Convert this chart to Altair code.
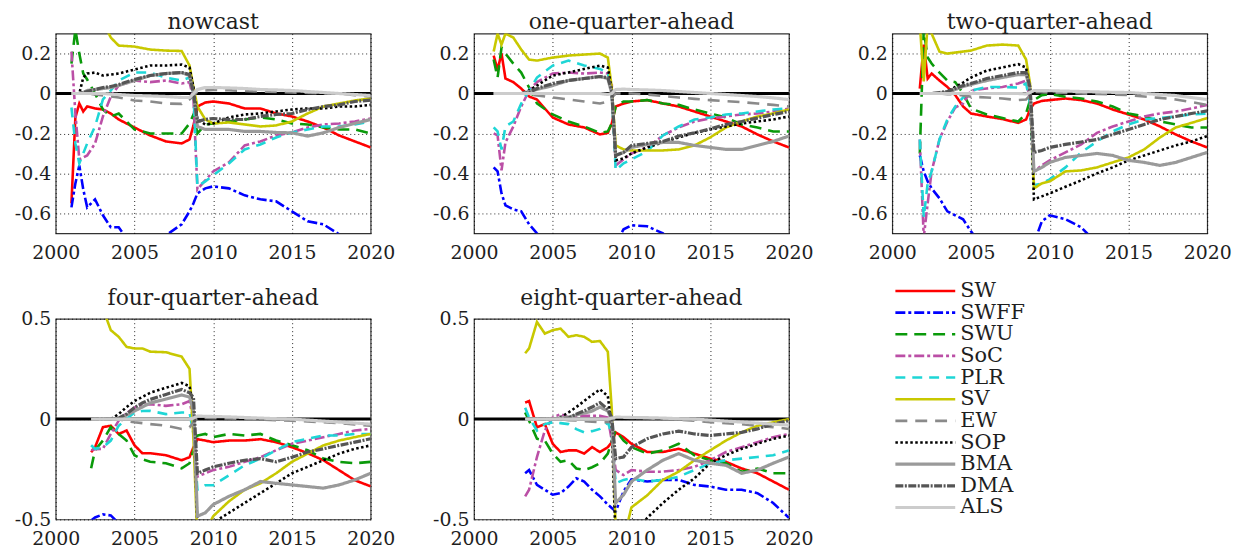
import altair as alt
import pandas as pd

SERIES = ["SW", "SWFF", "SWU", "SoC", "PLR", "SV", "EW", "SOP", "BMA", "DMA", "ALS"]
COLORS = ["#ff0000", "#0000ff", "#0a9a0a", "#bb4fa6", "#1ed6d6", "#c8c800",
          "#8a8a8a", "#000000", "#9a9a9a", "#555555", "#cccccc"]
DASHES = [[1, 0], [10, 3, 3, 3], [12, 7], [10, 3, 3, 3], [10, 7], [1, 0],
          [12, 8], [2.5, 2.5], [1, 0], [8, 1.5, 2, 1.5], [1, 0]]
THICK = ["BMA", "DMA", "ALS"]

X_TICKS = [2000, 2005, 2010, 2015, 2020]
Y_TICKS_TOP = [-0.6, -0.4, -0.2, 0, 0.2]
Y_TICKS_BOT = [-0.5, 0, 0.5]

# ---------------- nowcast ----------------
NOW_T = [2001.0, 2001.25, 2001.5, 2001.75, 2002.0, 2002.5, 2003.0, 2003.5, 2004.0, 2005.0,
         2006.0, 2007.0, 2008.0, 2008.5, 2008.75, 2009.0, 2009.5, 2010.0, 2011.0, 2012.0,
         2013.0, 2014.0, 2015.0, 2016.0, 2017.0, 2018.0, 2019.0, 2020.0]
NOW_SW = [-0.55, -0.12, -0.05, -0.09, -0.065, -0.075, -0.08, -0.1, -0.13, -0.17, -0.21, -0.24, -0.25, -0.23,
          -0.16, -0.065, -0.045, -0.04, -0.05, -0.075, -0.075, -0.1, -0.115, -0.14, -0.17, -0.21, -0.24, -0.27]
NOW_SWFF = [-0.57, -0.45, -0.36, -0.48, -0.57, -0.53, -0.61, -0.67, -0.67, -0.78, -0.8, -0.71, -0.655, -0.59,
            -0.55, -0.5, -0.475, -0.465, -0.475, -0.51, -0.53, -0.54, -0.59, -0.64, -0.655, -0.705, -0.75, -0.8]
NOW_SWU = [0.15, 0.32, 0.2, 0.1, 0.07, 0.0, -0.08, -0.115, -0.1, -0.18, -0.2, -0.2, -0.2, -0.15,
           -0.105, -0.2, -0.155, -0.15, -0.14, -0.13, -0.12, -0.13, -0.15, -0.155, -0.17, -0.18, -0.18, -0.2]
NOW_SOC = [0.21, -0.1, -0.33, -0.32, -0.31, -0.25, -0.115, -0.015, 0.04, 0.065, 0.057, 0.065, 0.05, 0.057,
           -0.03, -0.48, -0.435, -0.39, -0.345, -0.26, -0.24, -0.21, -0.195, -0.17, -0.155, -0.15, -0.14, -0.125]
NOW_PLR = [-0.07, -0.25, -0.35, -0.3, -0.25, -0.165, -0.03, 0.015, 0.065, 0.105, 0.105, 0.08, 0.065, 0.08,
           0.0, -0.465, -0.44, -0.41, -0.35, -0.28, -0.255, -0.22, -0.195, -0.18, -0.165, -0.165, -0.155, -0.14]
NOW_SV = [None, None, None, None, None, None, 0.36, 0.28, 0.24, 0.235, 0.22, 0.215, 0.213, 0.14,
          0.03, -0.065, -0.13, -0.15, -0.145, -0.155, -0.165, -0.16, -0.14, -0.1, -0.065, -0.05, -0.035, -0.025]
NOW_EW = [0, 0, 0, 0, 0, -0.005, -0.01, -0.015, -0.02, -0.035, -0.04, -0.05, -0.052, -0.03,
          -0.01, 0.01, 0.015, 0.018, 0.016, 0.013, 0.01, 0.008, 0.005, 0.003, 0.0, 0.0, -0.008, -0.015]
NOW_SOP = [0, 0, 0, 0.08, 0.1, 0.105, 0.09, 0.095, 0.1, 0.12, 0.14, 0.14, 0.145, 0.13,
           0.03, -0.13, -0.155, -0.15, -0.12, -0.105, -0.1, -0.09, -0.08, -0.075, -0.075, -0.065, -0.065, -0.057]
NOW_BMA = [0, 0, 0, 0.005, 0.015, 0.02, 0.025, 0.03, 0.04, 0.065, 0.09, 0.1, 0.105, 0.09,
           0.0, -0.165, -0.18, -0.18, -0.18, -0.19, -0.19, -0.195, -0.197, -0.213, -0.197, -0.17, -0.15, -0.13]
NOW_DMA = [0, 0, 0, 0.005, 0.01, 0.02, 0.03, 0.035, 0.045, 0.07, 0.09, 0.1, 0.105, 0.095,
           0.0, -0.14, -0.13, -0.125, -0.13, -0.13, -0.115, -0.105, -0.1, -0.08, -0.065, -0.057, -0.04, -0.033]
NOW_ALS = [0, 0, 0, 0, 0, 0, 0, -0.003, -0.005, -0.01, -0.012, -0.015, -0.02, -0.02,
           0.0, 0.02, 0.03, 0.03, 0.028, 0.025, 0.02, 0.018, 0.015, 0.01, 0.005, 0.0, -0.005, -0.01]

# ---------------- one-quarter-ahead ----------------
Q1_T = [2001.25, 2001.5, 2001.75, 2002.0, 2002.5, 2003.0, 2003.5, 2004.0, 2005.0, 2006.0,
        2007.0, 2008.0, 2008.5, 2008.75, 2009.0, 2009.5, 2010.0, 2011.0, 2012.0, 2013.0,
        2014.0, 2015.0, 2016.0, 2017.0, 2018.0, 2019.0, 2020.0]
Q1_SW = [0.19, 0.12, 0.2, 0.075, 0.057, 0.025, -0.015, -0.03, -0.12, -0.155, -0.17, -0.205, -0.197, -0.15,
         -0.065, -0.05, -0.04, -0.033, -0.05, -0.065, -0.09, -0.115, -0.14, -0.165, -0.205, -0.24, -0.27]
Q1_SWFF = [-0.37, -0.39, -0.5, -0.56, -0.58, -0.59, -0.655, -0.7, -0.78, -0.8, -0.8, -0.8, -0.8, -0.79,
           -0.75, -0.68, -0.66, -0.665, -0.7, -0.78, -0.82, -0.85, -0.85, -0.85, -0.85, -0.85, -0.85]
Q1_SWU = [0.17, 0.08, 0.23, 0.2, 0.15, 0.105, 0.03, -0.05, -0.105, -0.14, -0.165, -0.197, -0.19, -0.15,
          -0.065, -0.04, -0.04, -0.033, -0.05, -0.057, -0.08, -0.1, -0.12, -0.155, -0.17, -0.19, -0.19]
Q1_SOC = [-0.2, -0.21, -0.385, -0.245, -0.165, -0.065, 0.015, 0.057, 0.1, 0.105, 0.1, 0.105, 0.1, 0.05,
          -0.36, -0.33, -0.3, -0.27, -0.21, -0.17, -0.14, -0.125, -0.115, -0.105, -0.1, -0.09, -0.075]
Q1_PLR = [-0.17, -0.19, -0.28, -0.165, -0.14, -0.05, 0.015, 0.08, 0.14, 0.165, 0.14, 0.123, 0.105, 0.0,
          -0.385, -0.35, -0.33, -0.29, -0.21, -0.165, -0.13, -0.12, -0.105, -0.1, -0.09, -0.08, -0.075]
Q1_SV = [0.21, 0.3, 0.245, 0.3, 0.28, 0.22, 0.17, 0.165, 0.18, 0.19, 0.195, 0.2, 0.18, 0.03,
         -0.26, -0.28, -0.285, -0.285, -0.285, -0.28, -0.26, -0.22, -0.17, -0.14, -0.115, -0.1, -0.08]
Q1_EW = [0, 0, 0, 0, 0, 0, -0.005, -0.01, -0.02, -0.03, -0.04, -0.05, -0.04, -0.02,
         0.0, 0.0, 0.0, -0.005, -0.013, -0.02, -0.027, -0.033, -0.038, -0.043, -0.05, -0.057, -0.065]
Q1_SOP = [0, 0, 0, 0, 0, 0, 0.015, 0.04, 0.09, 0.105, 0.123, 0.14, 0.13, 0.015,
          -0.335, -0.325, -0.3, -0.27, -0.245, -0.22, -0.197, -0.18, -0.165, -0.15, -0.14, -0.13, -0.115]
Q1_BMA = [0, 0, 0, 0, 0, 0, 0.01, 0.02, 0.04, 0.065, 0.075, 0.085, 0.075, 0.0,
          -0.31, -0.295, -0.27, -0.255, -0.245, -0.245, -0.26, -0.27, -0.28, -0.28, -0.26, -0.24, -0.213]
Q1_DMA = [0, 0, 0, 0, 0, 0, 0.005, 0.025, 0.05, 0.065, 0.075, 0.085, 0.08, 0.015,
          -0.31, -0.295, -0.26, -0.25, -0.24, -0.213, -0.197, -0.177, -0.155, -0.14, -0.123, -0.105, -0.09]
Q1_ALS = [0, 0, 0, 0, 0, 0, 0, 0, 0, 0, 0, 0, -0.005, 0.0,
          0.02, 0.022, 0.02, 0.018, 0.015, 0.01, 0.005, 0.0, -0.005, -0.01, -0.015, -0.022, -0.03]

# ---------------- two-quarter-ahead ----------------
Q2_T = [2001.75, 2002.0, 2002.25, 2002.5, 2003.0, 2003.5, 2004.0, 2004.5, 2005.0, 2006.0,
        2007.0, 2008.0, 2008.5, 2008.75, 2009.0, 2009.5, 2010.0, 2011.0, 2012.0, 2013.0,
        2014.0, 2015.0, 2016.0, 2017.0, 2018.0, 2019.0, 2020.0]
Q2_SW = [0.025, 0.245, 0.075, 0.1, 0.065, 0.033, -0.008, -0.065, -0.1, -0.115, -0.128, -0.147, -0.13, -0.08,
         -0.05, -0.037, -0.033, -0.025, -0.033, -0.05, -0.08, -0.105, -0.13, -0.165, -0.205, -0.24, -0.27]
Q2_SWFF = [-0.31, -0.39, -0.44, -0.475, -0.525, -0.59, -0.61, -0.63, -0.69, -0.8, -0.8, -0.8, -0.8, -0.8,
           -0.75, -0.64, -0.61, -0.63, -0.67, -0.75, -0.8, -0.85, -0.85, -0.85, -0.85, -0.85, -0.85]
Q2_SWU = [-0.3, 0.32, 0.18, 0.15, 0.105, 0.065, 0.057, 0.0, -0.075, -0.105, -0.123, -0.14, -0.1, -0.033,
          -0.033, -0.008, -0.003, -0.016, -0.025, -0.04, -0.065, -0.1, -0.115, -0.14, -0.155, -0.17, -0.17]
Q2_SOC = [-0.23, -0.72, -0.55, -0.39, -0.23, -0.14, -0.07, -0.05, 0.015, 0.025, 0.033, 0.05, 0.065, -0.033,
          -0.39, -0.36, -0.335, -0.295, -0.255, -0.197, -0.165, -0.14, -0.115, -0.1, -0.09, -0.075, -0.057]
Q2_PLR = [-0.23, -0.62, -0.45, -0.39, -0.23, -0.13, -0.065, -0.02, 0.015, 0.033, 0.033, 0.03, 0.05, -0.05,
          -0.46, -0.45, -0.43, -0.37, -0.295, -0.24, -0.19, -0.155, -0.13, -0.123, -0.115, -0.105, -0.1]
Q2_SV = [0.35, 0.06, 0.35, 0.3, 0.21, 0.2, 0.205, 0.21, 0.215, 0.24, 0.245, 0.24, 0.17, 0.05,
         -0.475, -0.45, -0.44, -0.39, -0.385, -0.37, -0.345, -0.32, -0.28, -0.22, -0.17, -0.147, -0.123]
Q2_EW = [0, 0, 0, 0, 0, -0.003, -0.005, -0.01, -0.016, -0.02, -0.025, -0.033, -0.03, -0.01,
         0.008, 0.006, 0.005, 0.003, 0.0, -0.002, -0.005, -0.008, -0.015, -0.022, -0.03, -0.043, -0.057]
Q2_SOP = [0, 0, 0, 0, 0, 0.01, 0.033, 0.055, 0.08, 0.115, 0.13, 0.147, 0.13, 0.0,
          -0.53, -0.515, -0.5, -0.467, -0.435, -0.4, -0.37, -0.335, -0.31, -0.285, -0.26, -0.24, -0.213]
Q2_BMA = [0, 0, 0, 0, 0, 0.005, 0.02, 0.035, 0.045, 0.065, 0.08, 0.095, 0.095, 0.02,
          -0.39, -0.37, -0.345, -0.32, -0.31, -0.3, -0.31, -0.335, -0.345, -0.36, -0.345, -0.32, -0.295]
Q2_DMA = [0, 0, 0, 0, 0.005, 0.01, 0.025, 0.04, 0.05, 0.075, 0.09, 0.105, 0.105, 0.033,
          -0.295, -0.285, -0.27, -0.255, -0.243, -0.23, -0.205, -0.18, -0.155, -0.13, -0.115, -0.1, -0.087]
Q2_ALS = [0, 0, 0, 0, 0, 0, 0, 0, 0, 0, 0, 0, -0.002, 0.005,
          0.015, 0.015, 0.014, 0.012, 0.01, 0.008, 0.006, 0.005, 0.0, -0.005, -0.01, -0.02, -0.03]

# ---------------- four-quarter-ahead ----------------
Q4_T = [2002.25, 2002.5, 2003.0, 2003.5, 2004.0, 2004.5, 2005.0, 2005.5, 2006.0, 2007.0,
        2008.0, 2008.5, 2008.75, 2009.0, 2009.5, 2010.0, 2011.0, 2012.0, 2013.0, 2014.0,
        2015.0, 2016.0, 2017.0, 2018.0, 2019.0, 2020.0]
Q4_SW = [-0.165, -0.14, -0.04, -0.033, -0.074, -0.057, -0.13, -0.17, -0.17, -0.18, -0.205, -0.19, -0.14,
         -0.1, -0.107, -0.115, -0.107, -0.107, -0.1, -0.115, -0.14, -0.17, -0.205, -0.255, -0.305, -0.335]
Q4_SWFF = [-0.505, -0.49, -0.475, -0.48, -0.52, -0.55, -0.58, -0.6, -0.62, -0.65, -0.7, -0.7, -0.7,
           -0.65, -0.58, -0.53, -0.51, -0.55, -0.6, -0.65, -0.68, -0.7, -0.72, -0.75, -0.78, -0.8]
Q4_SWU = [-0.245, -0.155, -0.107, -0.04, -0.074, -0.107, -0.18, -0.2, -0.213, -0.22, -0.245, -0.22, -0.155,
          -0.082, -0.074, -0.09, -0.074, -0.082, -0.074, -0.107, -0.13, -0.155, -0.197, -0.213, -0.22, -0.213]
Q4_SOC = [-0.155, -0.15, -0.148, -0.074, -0.008, 0.03, 0.057, 0.07, 0.074, 0.066, 0.074, 0.09, -0.008,
          -0.287, -0.27, -0.254, -0.238, -0.213, -0.19, -0.155, -0.123, -0.107, -0.09, -0.074, -0.057, -0.049]
Q4_PLR = [-0.13, -0.148, -0.14, -0.107, -0.033, 0.0, 0.033, 0.04, 0.041, 0.025, 0.033, 0.033, -0.074,
          -0.352, -0.33, -0.33, -0.28, -0.23, -0.197, -0.155, -0.115, -0.098, -0.082, -0.082, -0.074, -0.074]
Q4_SV = [0.75, 0.7, 0.55, 0.443, 0.41, 0.36, 0.352, 0.352, 0.336, 0.333, 0.311, 0.25, -0.1,
         -0.6, -0.56, -0.484, -0.41, -0.352, -0.32, -0.27, -0.213, -0.172, -0.131, -0.107, -0.09, -0.074]
Q4_EW = [0, 0, 0, 0, 0, -0.01, -0.016, -0.02, -0.025, -0.033, -0.049, -0.041, -0.015,
         0.008, 0.006, 0.005, 0.003, 0.0, -0.002, -0.005, -0.008, -0.012, -0.016, -0.02, -0.027, -0.033]
Q4_SOP = [0, 0, 0, 0, 0.025, 0.06, 0.09, 0.11, 0.131, 0.156, 0.18, 0.164, 0.041,
          -0.533, -0.53, -0.516, -0.467, -0.418, -0.369, -0.32, -0.27, -0.238, -0.205, -0.172, -0.148, -0.131]
Q4_BMA = [0, 0, 0, 0, 0, 0.02, 0.04, 0.06, 0.08, 0.1, 0.12, 0.11, 0.04,
          -0.484, -0.467, -0.426, -0.385, -0.352, -0.311, -0.32, -0.328, -0.336, -0.344, -0.328, -0.303, -0.27]
Q4_DMA = [0, 0, 0, 0, 0.005, 0.025, 0.057, 0.08, 0.098, 0.123, 0.148, 0.131, 0.107,
          -0.27, -0.254, -0.238, -0.22, -0.205, -0.197, -0.213, -0.19, -0.164, -0.148, -0.131, -0.115, -0.098]
Q4_ALS = [0, 0, 0, 0, 0, 0, 0, 0, 0, 0, 0, 0, 0.005,
          0.015, 0.014, 0.013, 0.011, 0.008, 0.005, 0.002, 0.0, -0.005, -0.01, -0.015, -0.02, -0.025]

# ---------------- eight-quarter-ahead ----------------
Q8_T = [2003.25, 2003.5, 2004.0, 2004.5, 2005.0, 2005.5, 2006.0, 2006.5, 2007.0, 2007.5,
        2008.0, 2008.5, 2008.75, 2009.0, 2009.5, 2010.0, 2011.0, 2012.0, 2013.0, 2014.0,
        2015.0, 2016.0, 2017.0, 2018.0, 2019.0, 2020.0]
Q8_SW = [0.082, 0.09, -0.041, -0.025, -0.123, -0.164, -0.156, -0.156, -0.172, -0.14, -0.164, -0.14, -0.115,
         -0.066, -0.09, -0.123, -0.164, -0.164, -0.148, -0.172, -0.197, -0.213, -0.246, -0.27, -0.311, -0.352]
Q8_SWFF = [-0.27, -0.254, -0.328, -0.352, -0.377, -0.369, -0.336, -0.295, -0.311, -0.352, -0.385, -0.426, -0.443,
           -0.46, -0.36, -0.3, -0.311, -0.303, -0.303, -0.328, -0.336, -0.352, -0.352, -0.369, -0.418, -0.492]
Q8_SWU = [0.033, -0.008, -0.098, -0.107, -0.172, -0.213, -0.205, -0.246, -0.254, -0.24, -0.22, -0.172, -0.107,
          -0.057, -0.107, -0.14, -0.172, -0.156, -0.123, -0.18, -0.205, -0.22, -0.262, -0.246, -0.27, -0.27]
Q8_SOC = [-0.385, -0.352, -0.189, -0.057, 0.008, 0.025, 0.008, 0.016, 0.016, 0.016, 0.016, 0.008, -0.107,
          -0.254, -0.279, -0.254, -0.262, -0.262, -0.254, -0.238, -0.205, -0.164, -0.14, -0.115, -0.09, -0.074]
Q8_PLR = [0.057, 0.008, -0.057, -0.025, -0.016, -0.02, -0.025, -0.05, -0.066, -0.06, -0.049, -0.016, -0.074,
          -0.32, -0.303, -0.295, -0.311, -0.303, -0.287, -0.254, -0.22, -0.205, -0.197, -0.189, -0.18, -0.156]
Q8_SV = [0.328, 0.352, 0.484, 0.426, 0.443, 0.451, 0.41, 0.418, 0.41, 0.385, 0.389, 0.336, 0.05,
         -0.55, -0.6, -0.44, -0.38, -0.303, -0.262, -0.205, -0.156, -0.107, -0.066, -0.033, -0.016, 0.0]
Q8_EW = [0, 0, 0, 0, 0, 0, -0.005, -0.007, -0.01, -0.013, -0.016, -0.016, -0.005,
         0.008, 0.007, 0.006, 0.004, 0.0, -0.003, -0.008, -0.016, -0.02, -0.025, -0.033, -0.04, -0.049]
Q8_SOP = [0, 0, 0, 0, 0, 0.01, 0.033, 0.06, 0.09, 0.12, 0.148, 0.115, -0.041,
          -0.62, -0.62, -0.6, -0.492, -0.418, -0.352, -0.295, -0.22, -0.18, -0.148, -0.123, -0.098, -0.082]
Q8_BMA = [0, 0, 0, 0, 0, 0.005, 0.01, 0.02, 0.03, 0.04, 0.06, 0.04, 0.0,
          -0.418, -0.377, -0.311, -0.254, -0.205, -0.172, -0.205, -0.22, -0.23, -0.27, -0.254, -0.22, -0.189]
Q8_DMA = [0, 0, 0, 0, 0, 0.0, 0.005, 0.025, 0.041, 0.06, 0.082, 0.049, 0.008,
          -0.197, -0.189, -0.14, -0.098, -0.074, -0.06, -0.074, -0.082, -0.074, -0.066, -0.049, -0.025, -0.008]
Q8_ALS = [0, 0, 0, 0, 0, 0, 0, 0, 0, 0, 0, 0, 0.005,
          0.01, 0.009, 0.008, 0.007, 0.005, 0.002, 0.0, -0.005, -0.01, -0.015, -0.02, -0.025, -0.03]

PANELS = [
    ("nowcast", NOW_T, [NOW_SW, NOW_SWFF, NOW_SWU, NOW_SOC, NOW_PLR, NOW_SV, NOW_EW, NOW_SOP, NOW_BMA, NOW_DMA, NOW_ALS], [-0.7, 0.3], Y_TICKS_TOP),
    ("one-quarter-ahead", Q1_T, [Q1_SW, Q1_SWFF, Q1_SWU, Q1_SOC, Q1_PLR, Q1_SV, Q1_EW, Q1_SOP, Q1_BMA, Q1_DMA, Q1_ALS], [-0.7, 0.3], Y_TICKS_TOP),
    ("two-quarter-ahead", Q2_T, [Q2_SW, Q2_SWFF, Q2_SWU, Q2_SOC, Q2_PLR, Q2_SV, Q2_EW, Q2_SOP, Q2_BMA, Q2_DMA, Q2_ALS], [-0.7, 0.3], Y_TICKS_TOP),
    ("four-quarter-ahead", Q4_T, [Q4_SW, Q4_SWFF, Q4_SWU, Q4_SOC, Q4_PLR, Q4_SV, Q4_EW, Q4_SOP, Q4_BMA, Q4_DMA, Q4_ALS], [-0.5, 0.5], Y_TICKS_BOT),
    ("eight-quarter-ahead", Q8_T, [Q8_SW, Q8_SWFF, Q8_SWU, Q8_SOC, Q8_PLR, Q8_SV, Q8_EW, Q8_SOP, Q8_BMA, Q8_DMA, Q8_ALS], [-0.5, 0.5], Y_TICKS_BOT),
]

FONT = "DejaVu Serif"
TXT = "#1e1e1e"

color_enc = alt.Color("series:N", scale=alt.Scale(domain=SERIES, range=COLORS), legend=None)
dash_enc = alt.StrokeDash("series:N", scale=alt.Scale(domain=SERIES, range=DASHES), legend=None)

Y_LABEL = ("datum.value == 0 ? '0' : (datum.value < 0 ? '-' + format(-datum.value, '.1f') "
           ": format(datum.value, '.1f'))")


def make_panel(title, T, vals, ydom, yticks):
    rows = []
    for s, arr in zip(SERIES, vals):
        assert len(arr) == len(T), (title, s, len(arr), len(T))
        for t, v in zip(T, arr):
            if v is not None:
                rows.append({"series": s, "t": t, "v": v})
    df = pd.DataFrame(rows)
    x = alt.X("t:Q", scale=alt.Scale(domain=[2000, 2020], nice=False, zero=False),
              axis=alt.Axis(values=X_TICKS, format="d", title=None, labelPadding=10, labelFlush=False))
    y = alt.Y("v:Q", scale=alt.Scale(domain=ydom, nice=False, zero=False),
              axis=alt.Axis(values=yticks, labelExpr=Y_LABEL, title=None, labelPadding=5,
                            minExtent=39, maxExtent=39, labelFlush=False))
    zero = alt.Chart(pd.DataFrame({"z": [0]})).mark_rule(color="#000000", strokeWidth=3).encode(
        y=alt.Y("z:Q"))
    thin = alt.Chart(df[~df.series.isin(THICK)]).mark_line(clip=True, strokeWidth=2.6).encode(
        x=x, y=y, color=color_enc, strokeDash=dash_enc, detail="series:N")
    thick = alt.Chart(df[df.series.isin(THICK)]).mark_line(clip=True, strokeWidth=3.2).encode(
        x=x, y=y, color=color_enc, strokeDash=dash_enc, detail="series:N")
    return alt.layer(zero, thin, thick).properties(
        width=317, height=201 if ydom[0] < -0.6 else 202,
        title=alt.TitleParams(title, font=FONT, fontSize=22, fontWeight="normal", color=TXT,
                              anchor="middle", offset=0))


charts = [make_panel(*p) for p in PANELS]

# legend panel built from the series list
leg_rows = []
for i, s in enumerate(SERIES):
    leg_rows.append({"series": s, "idx": i, "x": 0.01})
    leg_rows.append({"series": s, "idx": i, "x": 0.2})
leg_df = pd.DataFrame(leg_rows)
lx = alt.X("x:Q", scale=alt.Scale(domain=[0, 1], nice=False, zero=False), axis=None)
ly = alt.Y("idx:Q", scale=alt.Scale(domain=[1.284, 10.55], nice=False, zero=False, reverse=True), axis=None)
leg_thin = alt.Chart(leg_df[~leg_df.series.isin(THICK)]).mark_line(strokeWidth=2.6).encode(
    x=lx, y=ly, color=color_enc, strokeDash=dash_enc, detail="series:N")
leg_thick = alt.Chart(leg_df[leg_df.series.isin(THICK)]).mark_line(strokeWidth=3.2).encode(
    x=lx, y=ly, color=color_enc, strokeDash=dash_enc, detail="series:N")
leg_text = alt.Chart(pd.DataFrame({"series": SERIES, "idx": list(range(len(SERIES))), "x": [0.216] * len(SERIES)})).mark_text(
    align="left", baseline="middle", font=FONT, fontSize=21, color=TXT).encode(x=lx, y=ly, text="series:N")
legend_panel = alt.layer(leg_thin, leg_thick, leg_text).properties(
    width=317, height=202, view=alt.ViewBackground(stroke="transparent"))

chart = alt.concat(*charts, legend_panel, columns=3,
                   spacing=alt.RowColnumber(row=86, column=104), bounds="flush").properties(
    padding={"left": 5, "top": 0, "right": 5, "bottom": 0}
).configure_view(stroke="#333333", strokeWidth=1.2).configure_axis(
    labelFont=FONT, labelFontSize=19, labelColor=TXT, grid=True, gridColor="#000000",
    gridDash=[1, 3], gridWidth=1, gridOpacity=0.85, domain=False, ticks=False, labelOverlap=False
).configure_title(font=FONT).configure_text(font=FONT)

chart.save("out.html", embed_options={"renderer": "svg", "actions": False})
